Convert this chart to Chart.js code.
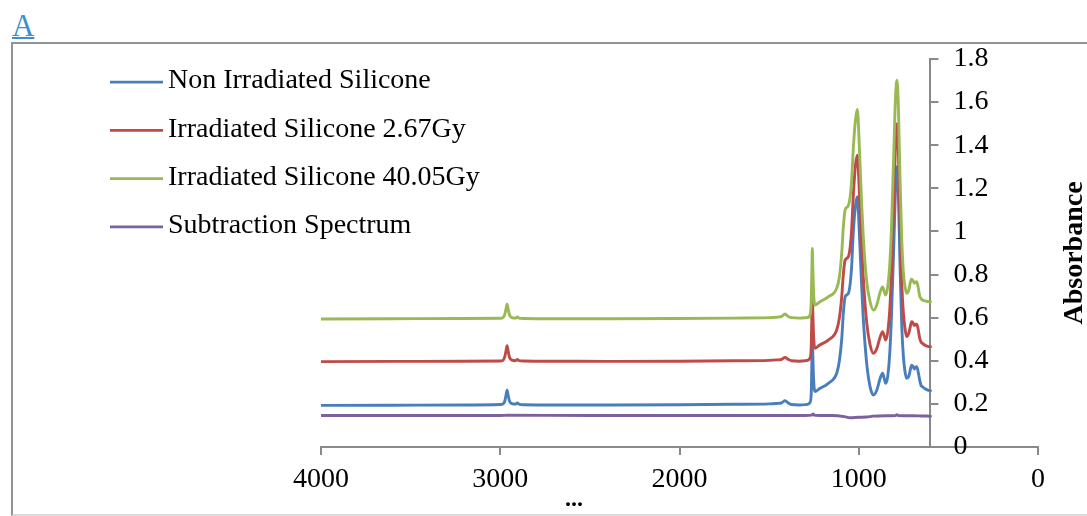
<!DOCTYPE html>
<html>
<head>
<meta charset="utf-8">
<script src="https://cdn.jsdelivr.net/npm/chart.js@4.4.1/dist/chart.umd.min.js"></script>
<style>
  html, body { margin: 0; padding: 0; background: #fff; overflow: hidden; }
  #frame {
    position: absolute; left: 11px; top: 42px; width: 1200px; height: 470px;
    border-top: 2px solid #939393; border-left: 2px solid #939393;
    border-bottom: 2px solid #d9d9d9;
  }
  #panel {
    position: absolute; left: 12px; top: 10px; margin: 0;
    font: 31px/31px 'Liberation Serif', serif; color: #3a8fd3;
    text-decoration: underline; text-decoration-thickness: 2px;
  }
  #xtitle {
    position: absolute; left: 565px; top: 486px;
    font: bold 24px/24px 'Liberation Serif', serif; color: #000;
  }
  #chart { position: absolute; left: 0; top: 0; }
</style>
</head>
<body>
<div id="frame"></div>
<div id="panel">A</div>
<canvas id="chart" width="1087" height="516"></canvas>
<div id="xtitle">...</div>
<script>
// FTIR absorbance spectra of silicone samples (wavenumber in cm-1)
const wavenumbers = [4000, 3600, 3200, 3000, 2985, 2975, 2968, 2962, 2956, 2948, 2935, 2915, 2905, 2895, 2870,
  2700, 2400, 2000, 1700, 1500, 1460, 1430, 1411, 1395, 1375, 1330, 1290, 1272, 1265, 1261, 1259, 1256, 1251,
  1244, 1220, 1170, 1123, 1108, 1095, 1086, 1076, 1058, 1041, 1030, 1018, 1008, 997, 984, 975, 956, 937, 918,
  900, 880, 867, 858, 850, 838, 826, 817, 804, 795, 787, 779, 770, 760, 751, 742, 733, 720, 712, 705, 698, 690,
  683, 677, 670, 660, 652, 645, 630, 615, 600];

const nonIrradiated = [0.193, 0.194, 0.195, 0.197, 0.200, 0.212, 0.240, 0.264, 0.240, 0.212, 0.201, 0.199, 0.204, 0.199, 0.196,
  0.195, 0.195, 0.196, 0.198, 0.200, 0.202, 0.205, 0.215, 0.205, 0.197, 0.195, 0.197, 0.206, 0.250, 0.420, 0.530, 0.420, 0.300,
  0.257, 0.270, 0.295, 0.342, 0.400, 0.500, 0.620, 0.697, 0.713, 0.820, 1.000, 1.120, 1.161, 1.000, 0.750, 0.600, 0.390, 0.280, 0.241,
  0.262, 0.320, 0.342, 0.318, 0.295, 0.330, 0.450, 0.620, 0.950, 1.200, 1.300, 1.180, 0.850, 0.560, 0.420, 0.350, 0.319, 0.330, 0.360, 0.380, 0.375, 0.362,
  0.370, 0.372, 0.355, 0.310, 0.285, 0.280, 0.270, 0.264, 0.261];

const irradiated267 = [0.396, 0.397, 0.398, 0.399, 0.402, 0.418, 0.445, 0.470, 0.445, 0.415, 0.403, 0.400, 0.406, 0.401, 0.399,
  0.398, 0.397, 0.398, 0.400, 0.402, 0.404, 0.407, 0.416, 0.407, 0.400, 0.398, 0.401, 0.412, 0.470, 0.640, 0.720, 0.620, 0.500,
  0.458, 0.472, 0.496, 0.543, 0.600, 0.697, 0.800, 0.867, 0.883, 0.990, 1.170, 1.310, 1.354, 1.190, 0.940, 0.790, 0.580, 0.475, 0.435,
  0.455, 0.512, 0.535, 0.515, 0.496, 0.535, 0.650, 0.820, 1.150, 1.400, 1.500, 1.380, 1.050, 0.760, 0.620, 0.550, 0.512, 0.530, 0.560, 0.581, 0.577, 0.563,
  0.570, 0.570, 0.552, 0.505, 0.486, 0.481, 0.472, 0.467, 0.465];

const irradiated4005 = [0.594, 0.595, 0.596, 0.597, 0.600, 0.615, 0.640, 0.663, 0.640, 0.612, 0.600, 0.598, 0.603, 0.598, 0.596,
  0.595, 0.595, 0.596, 0.598, 0.600, 0.602, 0.606, 0.617, 0.606, 0.600, 0.598, 0.600, 0.612, 0.680, 0.850, 0.921, 0.830, 0.700,
  0.659, 0.672, 0.697, 0.736, 0.790, 0.900, 1.020, 1.100, 1.120, 1.220, 1.390, 1.520, 1.566, 1.400, 1.130, 0.980, 0.770, 0.675, 0.635,
  0.658, 0.720, 0.743, 0.722, 0.705, 0.745, 0.860, 1.030, 1.380, 1.620, 1.702, 1.580, 1.250, 0.960, 0.810, 0.745, 0.713, 0.730, 0.765, 0.778, 0.772, 0.760,
  0.765, 0.767, 0.748, 0.700, 0.688, 0.682, 0.678, 0.675, 0.674];

const subtractionWavenumbers = [4000, 3000, 2962, 2500, 2000, 1500, 1300, 1262, 1255, 1245, 1150, 1080, 1050, 1000,
  956, 920, 850, 795, 787, 780, 700, 650, 600];
const subtraction = [0.146, 0.146, 0.147, 0.146, 0.146, 0.146, 0.146, 0.148, 0.153, 0.147, 0.146, 0.141, 0.136, 0.138,
  0.139, 0.143, 0.145, 0.146, 0.150, 0.146, 0.145, 0.144, 0.143];

const seriesNames = ['Non Irradiated Silicone', 'Irradiated Silicone 2.67Gy', 'Irradiated Silicone 40.05Gy', 'Subtraction Spectrum'];
const seriesColors = ['#4a7ebb', '#be4b48', '#98b954', '#7d60a0'];
const xTicks = [4000, 3000, 2000, 1000, 0];
const yTicks = [0, 0.2, 0.4, 0.6, 0.8, 1, 1.2, 1.4, 1.6, 1.8];
const yAxisCrossing = 600;   // the absorbance axis sits at 600 cm-1
const yTitle = 'Absorbance';

const pairs = (xs, ys) => xs.map((x, i) => ({ x: x, y: ys[i] }));

const FONT = "'Liberation Serif', serif";
Chart.defaults.font.family = FONT;
Chart.defaults.font.size = 28;
Chart.defaults.color = '#000';

const AXIS_GREY = '#898989';

// Moves the absorbance axis onto 600 cm-1 and draws the legend and axis title.
const spectrumLayout = {
  id: 'spectrumLayout',
  afterLayout(chart) {
    const xs = chart.scales.x, ys = chart.scales.y;
    const px = xs.getPixelForValue(yAxisCrossing);
    ys.left = px;
    ys.right = px + 80;
    ys.width = 80;
  },
  afterDraw(chart) {
    const ctx = chart.ctx;
    ctx.save();
    // legend
    chart.data.datasets.forEach((ds, i) => {
      const y = 82 + i * 48.3;
      ctx.strokeStyle = ds.borderColor;
      ctx.lineWidth = 2.75;
      ctx.beginPath();
      ctx.moveTo(110, y);
      ctx.lineTo(163, y);
      ctx.stroke();
      ctx.fillStyle = '#000';
      ctx.font = '28px ' + FONT;
      ctx.textAlign = 'left';
      ctx.textBaseline = 'middle';
      ctx.fillText(ds.label, 168, y - 1);
    });
    // y axis title, reading upwards
    ctx.translate(1075, 253);
    ctx.rotate(-Math.PI / 2);
    ctx.font = 'bold 28px ' + FONT;
    ctx.textAlign = 'center';
    ctx.textBaseline = 'middle';
    ctx.fillText(yTitle, 0, 0);
    ctx.restore();
  }
};

new Chart(document.getElementById('chart'), {
  type: 'line',
  data: {
    datasets: [
      { label: seriesNames[0], data: pairs(wavenumbers, nonIrradiated), borderColor: seriesColors[0], order: 4 },
      { label: seriesNames[1], data: pairs(wavenumbers, irradiated267), borderColor: seriesColors[1], order: 3 },
      { label: seriesNames[2], data: pairs(wavenumbers, irradiated4005), borderColor: seriesColors[2], order: 2 },
      { label: seriesNames[3], data: pairs(subtractionWavenumbers, subtraction), borderColor: seriesColors[3], order: 1 }
    ]
  },
  options: {
    responsive: false,
    animation: false,
    events: [],
    layout: { padding: { left: 321, right: 49, top: 59, bottom: 29 } },
    elements: {
      point: { radius: 0 },
      line: { borderWidth: 2.9, cubicInterpolationMode: 'monotone', fill: false, borderJoinStyle: 'round', borderCapStyle: 'round' }
    },
    plugins: { legend: { display: false }, tooltip: { enabled: false } },
    scales: {
      x: {
        type: 'linear',
        position: 'bottom',
        reverse: true,
        min: 0,
        max: 4000,
        afterFit: s => { s.height = 40; },
        afterBuildTicks: s => { s.ticks = xTicks.map(v => ({ value: v })); },
        ticks: { padding: 8, maxRotation: 0, callback: v => String(v) },
        grid: { drawOnChartArea: false, drawTicks: true, tickLength: 8, color: AXIS_GREY, lineWidth: 2 },
        border: { color: AXIS_GREY, width: 2 }
      },
      y: {
        type: 'linear',
        position: 'right',
        min: 0,
        max: 1.8,
        afterFit: s => { s.width = 0; },
        afterBuildTicks: s => { s.ticks = yTicks.map(v => ({ value: v })); },
        ticks: { padding: 15, callback: v => String(Math.round(v * 10) / 10) },
        grid: { drawOnChartArea: false, drawTicks: true, tickLength: 8, color: AXIS_GREY, lineWidth: 2 },
        border: { color: AXIS_GREY, width: 2 }
      }
    }
  },
  plugins: [spectrumLayout]
});
</script>
</body>
</html>
